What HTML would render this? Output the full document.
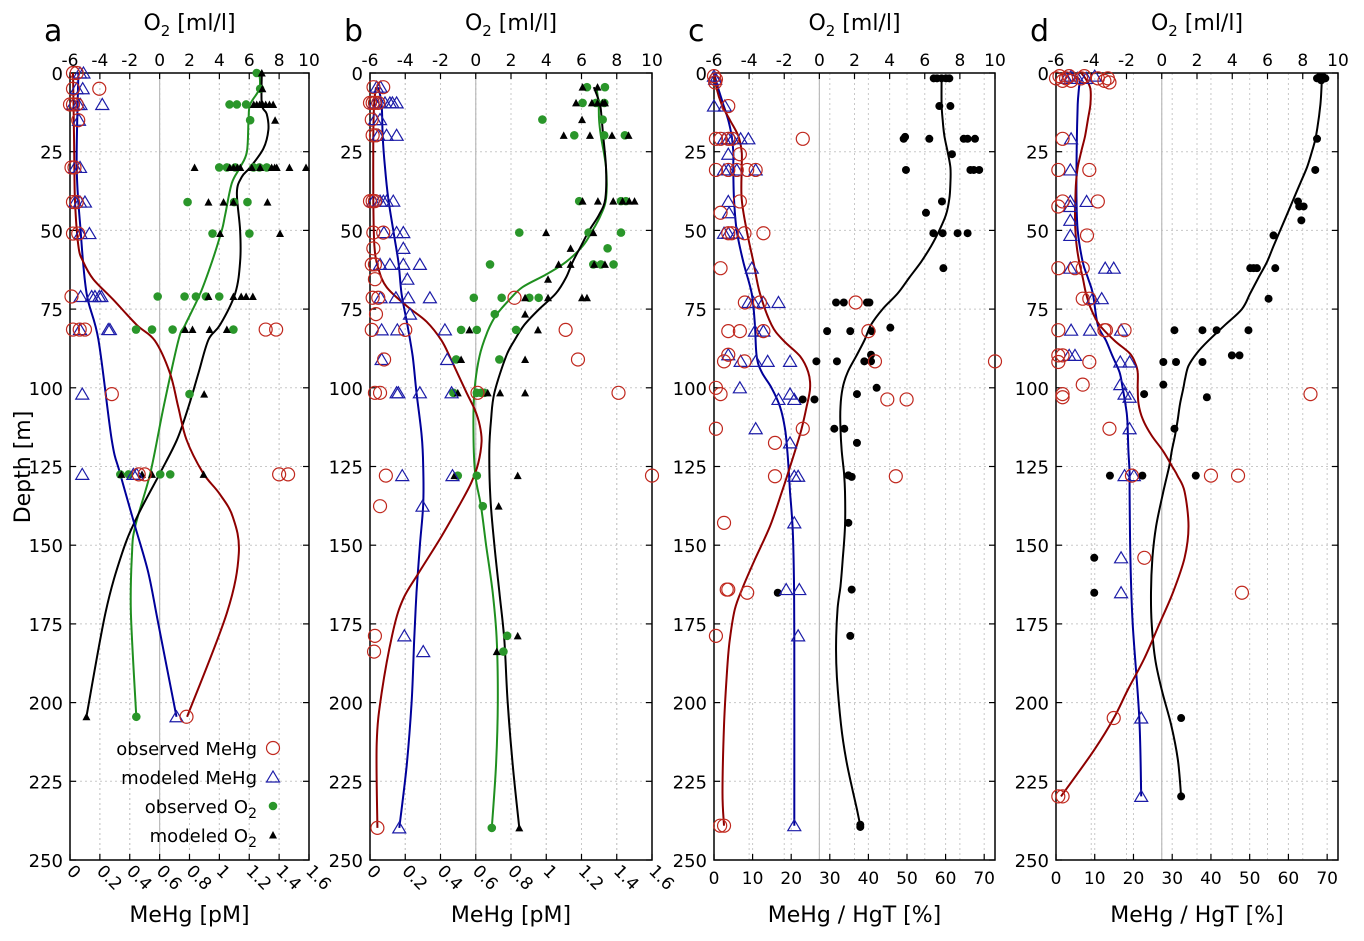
<!DOCTYPE html>
<html><head><meta charset="utf-8"><style>
html,body{margin:0;padding:0;background:#fff;}
svg{display:block;font-family:"DejaVu Sans","Liberation Sans",sans-serif;}
</style></head><body>
<svg id="chart" width="1364" height="941" viewBox="0 0 1364 941" xmlns="http://www.w3.org/2000/svg">
<g id="layer"></g>
</svg>
<script>
// ---------- Panel a ----------
const aObsMeHg=[[0.02,0],[0.045,0],[0.02,5],[0.196,5],[0.0,10],[0.02,10],[0.045,10],[0.055,15],[0.01,30],[0.03,30],[0.02,41],[0.045,41],[0.02,51],[0.055,51],[0.01,71],[0.02,81.5],[0.065,81.5],[0.1,81.5],[1.31,81.5],[1.38,81.5],[0.28,102],[0.46,127.5],[0.5,127.5],[1.40,127.5],[1.46,127.5],[0.78,204.5]];
const aModMeHg=[[0.067,0],[0.09,0],[0.045,5],[0.085,5],[0.02,10],[0.055,10],[0.07,10],[0.216,10],[0.06,15],[0.035,30],[0.067,30],[0.035,41],[0.067,41],[0.1,41],[0.071,51],[0.13,51],[0.071,71],[0.145,71],[0.167,71],[0.196,71],[0.21,71],[0.067,81.5],[0.256,81.5],[0.267,81.5],[0.082,102],[0.082,127.5],[0.424,127.5],[0.446,127.5],[0.713,204.5]];
const aObsO2=[[6.5,0],[6.73,5],[4.68,10],[5.17,10],[5.79,10],[6.06,15],[3.99,30],[4.5,30],[5.06,30],[6.28,30],[6.68,30],[7.17,30],[1.87,41],[4.99,41],[5.88,41],[3.54,51],[6.01,51],[-0.13,71],[1.67,71],[2.43,71],[3.1,71],[3.99,71],[-1.58,81.5],[-0.51,81.5],[0.87,81.5],[4.94,81.5],[2.0,102],[-2.63,127.5],[-2.07,127.5],[0.04,127.5],[0.71,127.5],[-1.56,204.5]];
const aModO2=[[6.84,0],[6.88,5],[6.3,10],[6.5,10],[6.7,10],[6.9,10],[7.1,10],[7.35,10],[7.6,10],[7.73,15],[2.34,30],[4.7,30],[4.95,30],[5.2,30],[5.4,30],[6.17,30],[6.73,30],[7.5,30],[7.7,30],[7.84,30],[8.69,30],[9.8,30],[3.27,41],[4.28,41],[4.94,41],[7.22,41],[4.05,51],[8.06,51],[3.27,71],[4.94,71],[5.46,71],[5.79,71],[6.24,71],[1.71,81.5],[2.2,81.5],[3.34,81.5],[4.5,81.5],[2.98,102],[-2.56,127.5],[-1.18,127.5],[-0.51,127.5],[2.94,127.5],[-4.9,204.5]];
const aObsMeHgLine=[[0.02,0],[0.027,20],[0.033,40],[0.056,55],[0.089,60],[0.156,65.5],[0.29,72],[0.446,80],[0.568,85],[0.669,95.3],[0.724,105.9],[0.78,116.5],[0.89,127],[1.0,133.6],[1.09,141],[1.13,152.6],[1.05,171.6],[0.784,204.5]];
const aModMeHgLine=[[0.056,0],[0.045,30],[0.071,50],[0.111,70],[0.19,84.7],[0.279,116.5],[0.334,127],[0.435,143.9],[0.524,158.7],[0.59,174.6],[0.713,204.5]];
const aObsO2Line=[[6.68,0],[6.68,5],[6.06,10],[5.95,15],[5.84,25],[5.39,30],[4.83,35],[4.39,45],[4.16,50],[3.5,60],[2.72,70],[1.71,80],[1.27,84.7],[0.27,105.9],[-0.62,127],[-1.63,143.9],[-1.85,152.6],[-1.92,171.6],[-1.56,204.5]];
const aModO2Line=[[6.84,0],[6.84,10],[7.17,13],[7.28,18],[6.95,24],[6.06,30],[5.5,33],[5.17,38],[5.39,50],[5.39,60],[5.06,70],[4.05,80],[3.27,84.7],[2.6,95.3],[1.94,105.9],[1.16,116.5],[0.04,127],[-1.51,141],[-2.52,152.6],[-3.63,171.6],[-4.9,204.5]];

// ---------- Panel b ----------
const bObsMeHg=[[0.02,4.5],[0.075,4.5],[0.0,9.5],[0.015,9.5],[0.028,9.5],[0.047,9.5],[0.01,14.8],[0.015,19.8],[0.034,19.8],[0.0,40.7],[0.015,40.7],[0.028,40.7],[0.019,50.7],[0.075,50.7],[0.019,55.7],[0.01,60.8],[0.028,60.8],[0.028,65.5],[0.015,71.4],[0.047,71.4],[0.82,71.4],[0.034,76.6],[0.01,81.6],[0.2,81.6],[1.11,81.6],[0.08,91],[1.18,91],[0.028,101.6],[0.057,101.6],[0.61,101.6],[1.41,101.6],[0.09,127.9],[1.6,127.9],[0.057,137.6],[0.028,178.8],[0.023,183.8],[0.042,239.8]];
const bModMeHg=[[0.038,4.5],[0.06,4.5],[0.028,9.5],[0.057,9.5],[0.085,9.5],[0.113,9.5],[0.127,9.5],[0.151,9.5],[0.028,14.8],[0.057,14.8],[0.047,19.8],[0.094,19.8],[0.151,19.8],[0.019,40.7],[0.057,40.7],[0.076,40.7],[0.094,40.7],[0.132,40.7],[0.079,50.7],[0.151,50.7],[0.189,50.7],[0.189,55.7],[0.057,60.8],[0.113,60.8],[0.189,60.8],[0.283,60.8],[0.212,65.5],[0.06,71.4],[0.147,71.4],[0.217,71.4],[0.34,71.4],[0.227,76.6],[0.066,81.6],[0.155,81.6],[0.425,81.6],[0.066,91],[0.438,91],[0.151,101.6],[0.161,101.6],[0.283,101.6],[0.463,101.6],[0.183,127.9],[0.468,127.9],[0.298,137.6],[0.195,178.8],[0.302,183.8],[0.166,239.8]];
const bObsO2=[[6.31,4.5],[7.33,4.5],[6.06,9.5],[6.82,9.5],[7.29,9.5],[3.78,14.8],[7.2,14.8],[5.59,19.8],[7.29,19.8],[8.46,19.8],[5.87,40.7],[8.24,40.7],[8.52,40.7],[2.47,50.7],[6.4,50.7],[8.24,50.7],[7.48,55.7],[0.81,60.8],[6.67,60.8],[7.1,60.8],[7.82,60.8],[-0.11,71.4],[1.47,71.4],[3.04,71.4],[3.57,71.4],[1.08,76.6],[-0.83,81.6],[0.06,81.6],[2.29,81.6],[-1.11,91],[1.34,91],[-1.27,101.6],[0.06,101.6],[0.3,101.6],[0.49,101.6],[-1.02,127.9],[0.06,127.9],[0.4,137.6],[1.78,178.8],[1.57,183.8],[0.91,239.8]];
const bModO2=[[6.06,4.5],[6.91,4.5],[5.69,9.5],[6.59,9.5],[6.91,9.5],[7.2,9.5],[7.33,9.5],[6.03,14.8],[4.99,19.8],[6.48,19.8],[7.73,19.8],[8.67,19.8],[6.06,40.7],[6.93,40.7],[7.8,40.7],[8.33,40.7],[8.71,40.7],[9.01,40.7],[3.99,50.7],[6.67,50.7],[5.38,55.7],[4.7,60.8],[5.38,60.8],[6.72,60.8],[7.33,60.8],[4.1,65.5],[2.8,71.4],[4.1,71.4],[6.03,71.4],[6.31,71.4],[2.8,76.6],[-0.36,81.6],[3.53,81.6],[-0.83,91],[2.8,91],[-1.02,101.6],[0.68,101.6],[1.38,101.6],[2.8,101.6],[-1.21,127.9],[2.38,127.9],[1.3,137.6],[2.38,178.8],[1.19,183.8],[2.47,239.8]];
const bObsMeHgLine=[[0.034,4.5],[0.023,10],[0.019,20],[0.019,40],[0.025,55],[0.047,62],[0.094,68],[0.208,74],[0.321,79],[0.406,85],[0.46,91],[0.548,101.6],[0.595,107],[0.623,112],[0.633,117],[0.614,124],[0.576,130],[0.51,137],[0.397,148],[0.274,159],[0.189,167],[0.132,177],[0.066,197],[0.038,213],[0.042,239.8]];
const bModMeHgLine=[[0.047,4.5],[0.066,10],[0.072,20],[0.085,30],[0.104,40],[0.132,50],[0.161,60],[0.179,70],[0.212,80],[0.242,90],[0.264,101.6],[0.293,115],[0.302,125],[0.302,137],[0.283,150],[0.264,165],[0.251,180],[0.236,200],[0.208,220],[0.166,239.8]];
const bObsO2Line=[[6.86,5],[6.97,10],[7.0,15],[7.1,20],[7.39,30],[7.39,40],[7.1,45],[6.63,50],[6.06,55],[5.12,60],[3.99,64],[2.66,68],[1.91,72],[1.15,77],[0.68,82],[0.21,90],[-0.08,101.6],[-0.13,115],[-0.02,127.9],[0.3,137.6],[0.59,150],[0.96,165],[1.19,180],[1.25,200],[1.15,220],[0.91,239.8]];
const bModO2Line=[[6.7,4.5],[7.05,10],[7.15,15],[7.23,20],[7.39,30],[7.35,40],[7.0,45],[6.44,50],[5.97,55],[5.5,60],[5.12,65],[4.55,70],[3.6,75],[2.76,80],[2.19,85],[1.72,90],[1.06,101.6],[0.87,110],[0.77,120],[0.83,135],[1.06,150],[1.34,165],[1.62,180],[1.81,200],[2.1,220],[2.47,239.8]];

// ---------- Panel c ----------
const cObsMeHg=[[0,1],[0.5,2],[0.3,3],[3.7,10.5],[0.5,20.9],[1.7,20.9],[3.7,20.9],[4.7,20.9],[23,20.9],[6.7,25.8],[0.5,30.8],[3.7,30.8],[5.9,30.8],[8.6,30.8],[10.8,30.8],[6.7,40.8],[1.7,44.4],[3.7,50.9],[4.6,50.9],[7.9,50.9],[12.8,50.9],[1.7,62],[8,72.9],[11.9,72.9],[36.7,72.9],[3.7,82],[6.7,82],[12.8,82],[40,82],[3.7,89.5],[2.6,91.6],[7.9,91.6],[41.7,91.6],[72.8,91.6],[0.5,100],[1.7,102],[44.9,103.7],[49.9,103.7],[0.5,113],[23,113],[15.8,117.5],[15.8,128.1],[47.1,128.1],[2.6,142.9],[3.3,164.1],[3.7,164.1],[8.6,165.1],[0.5,178.8],[1.6,239.1],[2.6,239.1]];
const cModMeHg=[[0,1],[0.3,2],[0,10.5],[2.8,10.5],[2.6,20.9],[3.7,20.9],[4.8,20.9],[6.9,20.9],[8.9,20.9],[3.7,25.8],[2.6,30.8],[3.7,30.8],[5.9,30.8],[10.8,30.8],[3.7,40.8],[3.9,44.4],[2.6,50.9],[3.7,50.9],[5.9,50.9],[9.8,62],[8.9,72.9],[10.2,72.9],[12.8,72.9],[16.7,72.9],[10.6,82],[12.8,82],[3.7,89.5],[6.9,91.6],[10.8,91.6],[13.9,91.6],[19.7,91.6],[6.7,100],[19.7,102],[16.7,103.7],[20.8,103.7],[10.8,113],[19.7,117.5],[20.8,128.1],[21.8,128.1],[20.8,142.9],[18.7,164.1],[22.1,164.1],[21.8,178.8],[20.8,239.1]];
const cObsO2=[[6.51,1.7],[6.7,1.7],[6.96,1.7],[7.21,1.7],[7.4,1.7],[6.83,10.5],[7.46,10.5],[4.8,20.9],[4.88,20.3],[6.26,20.9],[8.22,20.9],[8.44,20.9],[8.86,20.9],[7.55,25.8],[4.93,30.8],[8.6,30.8],[8.79,30.8],[9.1,30.8],[6.98,40.8],[6.07,44.4],[6.49,50.9],[7.02,50.9],[7.87,50.9],[8.44,50.9],[7.06,62],[0.95,72.9],[1.39,72.9],[2.71,72.9],[2.85,72.9],[0.44,82],[1.76,82],[2.98,82],[4.04,80.9],[2.94,89.5],[-0.17,91.6],[1.0,91.6],[2.56,91.6],[2.94,91.6],[3.26,100],[2.14,102],[-0.95,103.7],[-0.28,103.7],[0.85,113],[1.42,113],[2.14,117.5],[1.65,127.8],[1.84,128.3],[1.65,142.9],[-2.37,165.1],[1.84,164.1],[1.76,178.8],[2.33,238.8],[2.33,239.5]];
const cObsMeHgLine=[[0,0],[0.69,5],[1.99,10],[4.15,15],[6.3,20],[7.17,25],[7.17,30],[7.17,40],[8.46,50],[10.2,60],[11.9,70],[14.9,80],[18,85],[22.3,90],[24.4,95],[24.9,100],[24,106],[22.7,113],[21,120],[19.2,127],[17.5,133.4],[14.5,144],[10.6,154.5],[7.6,163],[5.4,170.4],[4.0,181],[3.3,191.6],[2.6,207.4],[2.2,228.6],[2.6,239.1]];
const cModMeHgLine=[[0,0],[1.12,5],[2.42,10],[3.71,15],[4.58,20],[5.0,25],[5.0,30],[5.18,40],[5.87,50],[7.6,60],[9.76,70],[10.6,80],[11.05,90],[12.35,95],[14.9,100],[17.1,106],[18.4,113],[19,120],[19.4,127],[19.7,133],[20.4,145],[20.7,160],[20.8,180],[20.8,239.1]];
const cObsO2Line=[[6.96,1.7],[6.96,10],[7.02,15],[7.12,20],[7.3,25],[7.46,30],[7.46,35],[7.4,40],[7.21,45],[6.83,50],[6.36,55],[5.79,60],[5.12,65],[4.46,70],[3.6,75],[2.94,80],[2.56,85],[2.09,90],[1.61,95],[1.33,100],[1.2,106],[1.2,113],[1.27,120],[1.4,127],[1.46,133],[1.46,144],[1.33,154.5],[1.2,163],[1.04,170],[0.95,181],[1.0,192],[1.23,207],[1.52,218],[1.9,228],[2.14,234],[2.33,239.1]];

// ---------- Panel d ----------
const dObsMeHg=[[0,1.7],[0.9,1],[1.7,2.5],[2.6,1.7],[3.4,1],[3.9,2.5],[6.5,1.7],[7.3,1],[10.8,1.7],[12.5,2.5],[13.4,1.7],[13.8,3],[1.7,20.9],[0.6,30.8],[8.6,30.8],[1.7,40.8],[10.8,40.8],[0.6,42.4],[8,51.6],[0.6,62],[4.9,62],[6.9,62],[6.9,71.7],[8.6,71.7],[0.6,81.7],[12.5,81.7],[12.9,81.7],[17.7,81.7],[0.6,89.7],[1.7,89.7],[0.6,91.8],[8.6,91.8],[6.9,99],[1.7,102],[65.7,102],[1.7,103],[13.8,113],[19.6,127.9],[40,127.9],[47,127.9],[22.8,154],[48,165.1],[14.9,204.9],[0.6,229.8],[1.7,229.8]];
const dModMeHg=[[2.6,1.7],[3.9,1],[5.6,1.7],[7.8,1.7],[10,1],[3.9,20.9],[3.7,30.8],[3.7,40.8],[7.9,40.8],[3.7,42.4],[3.7,46.8],[3.7,51.6],[3.7,62],[12.7,62],[14.9,62],[9.5,71.7],[11.8,71.7],[3.9,81.7],[8.8,81.7],[16.8,81.7],[3.4,89.7],[4.9,89.7],[16.6,91.8],[19,91.8],[16.6,99],[17.7,102],[19,103],[19,113],[17.7,127.9],[20.1,127.9],[16.8,154],[16.8,165.1],[22,204.9],[22,229.8]];
const dObsO2=[[8.81,1.7],[8.94,1.2],[9.05,2.3],[9.28,1.7],[9.15,1.2],[8.81,20.9],[8.71,30.8],[7.73,40.8],[7.8,42.4],[8.05,42.4],[7.92,46.8],[6.34,51.6],[5.02,62],[5.21,62],[5.4,62],[6.44,62],[6.06,71.7],[0.72,81.7],[2.31,81.7],[3.11,81.7],[4.92,81.7],[3.98,89.7],[4.41,89.7],[0.09,91.8],[0.81,91.8],[2.31,91.8],[0.09,99],[-1.0,102],[2.56,103],[0.72,113],[-2.94,127.9],[-1.1,127.9],[1.93,127.9],[-3.83,154],[-3.83,165.1],[1.1,204.9],[1.1,229.8]];
const dObsMeHgLine=[[6.5,0],[7.75,2],[8.87,5],[8.87,10],[8.2,15],[7.5,20],[6.5,25],[5.6,30],[5.17,35],[5.0,40],[4.9,45],[5.0,50],[5.34,55],[6.0,60],[6.9,65],[7.75,70],[9.05,75],[11.2,80],[15.1,85],[19.0,89],[20.4,92],[21.1,95],[21.1,100],[21.3,105],[22.4,110],[24.6,115],[27.6,120],[30.0,125],[31.4,128],[33.2,133],[34.2,144],[33.2,154],[30.2,165],[26.7,175],[22.8,186],[18.5,196],[14.9,205],[9.9,215],[1.3,229.8]];
const dModMeHgLine=[[3.4,0],[6.0,2],[5.9,5],[5.6,10],[5.4,20],[5.3,30],[5.3,40],[5.6,50],[6.9,60],[8.2,65],[9.5,70],[10.8,80],[12.9,85],[14.6,90],[16.4,95],[17.2,100],[17.9,105],[18.4,110],[18.7,120],[19.0,127],[19.0,133],[19.2,154],[19.8,175],[21.5,205],[22,229.8]];
const dObsO2Line=[[9.09,1],[9.0,10],[8.75,20],[8.52,25],[8.24,30],[7.86,35],[7.48,40],[7.1,45],[6.72,50],[6.34,55],[5.97,60],[5.49,65],[5.02,70],[4.55,75],[3.6,80],[2.65,85],[1.99,89],[1.52,93],[1.33,97],[1.23,100],[1.04,105],[0.91,110],[0.76,115],[0.57,120],[0.42,125],[0.09,133],[-0.32,144],[-0.53,154],[-0.61,165],[-0.57,175],[-0.38,186],[0,196],[0.53,207],[0.91,218],[1.1,229.8]];

// ---------- Axis tick labels ----------
const depthTicks=[0,25,50,75,100,125,150,175,200,225,250];
const o2Ticks=[-6,-4,-2,0,2,4,6,8,10];
const pmTicks=[0,0.2,0.4,0.6,0.8,1,1.2,1.4,1.6];
const pmTickLabels=["0","0.2","0.4","0.6","0.8","1","1.2","1.4","1.6"];
const pctTicks=[0,10,20,30,40,50,60,70];
const pctTickLabels=["0","10","20","30","40","50","60","70"];

const NS="http://www.w3.org/2000/svg";
const layer=document.getElementById('layer');
const TOP=73,BOT=860;
function el(tag,attrs,parent){const e=document.createElementNS(NS,tag);for(const k in attrs)e.setAttribute(k,attrs[k]);(parent||layer).appendChild(e);return e;}
function yS(d){return TOP+d*(BOT-TOP)/250;}

const panels=[
 {id:'a',L:70,R:309,xmax:1.6,ticks:pmTicks,labels:pmTickLabels,rot:true,title:'MeHg [pM]',
  obsM:aObsMeHg,modM:aModMeHg,obsO:aObsO2,modO:aModO2,lObsM:aObsMeHgLine,lModM:aModMeHgLine,lObsO:aObsO2Line,lModO:aModO2Line},
 {id:'b',L:370,R:652,xmax:1.6,ticks:pmTicks,labels:pmTickLabels,rot:true,title:'MeHg [pM]',
  obsM:bObsMeHg,modM:bModMeHg,obsO:bObsO2,modO:bModO2,lObsM:bObsMeHgLine,lModM:bModMeHgLine,lObsO:bObsO2Line,lModO:bModO2Line},
 {id:'c',L:714,R:995,xmax:72.8,ticks:pctTicks,labels:pctTickLabels,rot:false,title:'MeHg / HgT [%]',
  obsM:cObsMeHg,modM:cModMeHg,dotO:cObsO2,lObsM:cObsMeHgLine,lModM:cModMeHgLine,lDotO:cObsO2Line},
 {id:'d',L:1056,R:1338,xmax:72.8,ticks:pctTicks,labels:pctTickLabels,rot:false,title:'MeHg / HgT [%]',
  obsM:dObsMeHg,modM:dModMeHg,dotO:dObsO2,lObsM:dObsMeHgLine,lModM:dModMeHgLine,lDotO:dObsO2Line}
];

function smoothPath(pts){
  if(pts.length<2)return '';
  let d='M'+pts[0][0].toFixed(1)+','+pts[0][1].toFixed(1);
  for(let i=0;i<pts.length-1;i++){
    const p0=pts[i-1]||pts[i],p1=pts[i],p2=pts[i+1],p3=pts[i+2]||p2;
    const c1x=p1[0]+(p2[0]-p0[0])/6,c1y=p1[1]+(p2[1]-p0[1])/6;
    const c2x=p2[0]-(p3[0]-p1[0])/6,c2y=p2[1]-(p3[1]-p1[1])/6;
    d+=' C'+c1x.toFixed(1)+','+c1y.toFixed(1)+' '+c2x.toFixed(1)+','+c2y.toFixed(1)+' '+p2[0].toFixed(1)+','+p2[1].toFixed(1);
  }
  return d;
}
function circ(g,x,y){const e=el('circle',{cx:x,cy:y,r:6.5,fill:'none',stroke:'#c0281e','stroke-width':1.2},g);return e;}
function tri(g,x,y){const e=el('path',{d:`M${x-6.5},${y+5} L${x+6.5},${y+5} L${x},${y-6} Z`,fill:'none',stroke:'#1c1ca8','stroke-width':1.2},g);return e;}
function gdot(g,x,y){return el('circle',{cx:x,cy:y,r:4.3,fill:'#2a962a'},g);}
function btri(g,x,y){return el('path',{d:`M${x-4},${y+3.5} L${x+4},${y+3.5} L${x},${y-4} Z`,fill:'#000'},g);}
function bdot(g,x,y){return el('circle',{cx:x,cy:y,r:4,fill:'#000'},g);}

panels.forEach(p=>{
  const W=p.R-p.L;
  const xV=v=>p.L+v/p.xmax*W;
  const xO=o=>p.L+(o+6)/16*W;
  const g=el('g',{});
  
  
  const grid=el('g',{},g);
  
  
  depthTicks.forEach(d=>{if(d>0&&d<250)el('line',{x1:p.L,x2:p.R,y1:yS(d),y2:yS(d),stroke:'#c8c8c8','stroke-width':1,'stroke-dasharray':'2,3'},grid);});
  p.ticks.forEach(v=>{const x=xV(v);if(x>p.L+1&&x<p.R-1)el('line',{x1:x,x2:x,y1:TOP,y2:BOT,stroke:'#c8c8c8','stroke-width':1,'stroke-dasharray':'2,3'},grid);});
  o2Ticks.forEach(o=>{const x=xO(o);if(x>p.L+1&&x<p.R-1)el('line',{x1:x,x2:x,y1:TOP,y2:BOT,stroke:'#c8c8c8','stroke-width':1,'stroke-dasharray':'2,3'},grid);});
  const zl=el('line',{x1:xO(0),x2:xO(0),y1:TOP,y2:BOT,stroke:'#bbbbbb','stroke-width':1.2},g);
  
  
  const fr=el('rect',{x:p.L,y:TOP,width:W,height:BOT-TOP,fill:'none',stroke:'#000','stroke-width':1.5},g);
  
  
  depthTicks.forEach(d=>{
    el('line',{x1:p.L,x2:p.L+6,y1:yS(d),y2:yS(d),stroke:'#000','stroke-width':1.2},g);
    el('line',{x1:p.R,x2:p.R-6,y1:yS(d),y2:yS(d),stroke:'#000','stroke-width':1.2},g);
    const t=el('text',{x:p.L-7,y:yS(d)+7,'text-anchor':'end','font-size':18,fill:'#000'},g);
    t.textContent=String(d);
    
    
  });
  o2Ticks.forEach(o=>{
    const x=xO(o);
    el('line',{x1:x,x2:x,y1:TOP,y2:TOP+6,stroke:'#000','stroke-width':1.2},g);
    const t=el('text',{x:x,y:66,'text-anchor':'middle','font-size':17,fill:'#000'},g);
    t.textContent=String(o);
    
    
  });
  p.ticks.forEach((v,i)=>{
    const x=xV(v);
    el('line',{x1:x,x2:x,y1:BOT,y2:BOT-6,stroke:'#000','stroke-width':1.2},g);
    let t;
    if(p.rot){
      t=el('text',{x:x-4,y:872,'text-anchor':'start','font-size':17,fill:'#000',transform:`rotate(45 ${x-4} 872)`},g);
    } else {
      t=el('text',{x:x,y:884,'text-anchor':'middle','font-size':17,fill:'#000'},g);
    }
    t.textContent=p.labels[i];
    
    
  });
  const cx=(p.L+p.R)/2;
  const tt=el('text',{x:cx,y:30,'text-anchor':'middle','font-size':22,fill:'#000'},g);
  tt.innerHTML='O<tspan font-size="15" dy="6">2</tspan><tspan dy="-6"> [ml/l]</tspan>';
  
  
  const bt=el('text',{x:cx,y:922,'text-anchor':'middle','font-size':22,fill:'#000'},g);
  bt.textContent=p.title;
  
  
  const lt=el('text',{x:p.L-26,y:41,'text-anchor':'start','font-size':30,fill:'#000'},g);
  lt.textContent=p.id;
  
  

  const ln=(arr,fx,color,name)=>{
    const path=el('path',{d:smoothPath(arr.map(q=>[fx(q[0]),yS(q[1])])),fill:'none',stroke:color,'stroke-width':2},g);
    
    
  };
  if(p.lObsO){ln(p.lObsO,xO,'#1f8f1f','observed-o2-line');}
  if(p.lModO){ln(p.lModO,xO,'#000','modeled-o2-line');}
  if(p.lDotO){ln(p.lDotO,xO,'#000','o2-profile-line');}
  ln(p.lModM,xV,'#00009a','modeled-mehg-line');
  ln(p.lObsM,xV,'#8e0000','observed-mehg-line');
  if(p.obsO)p.obsO.forEach(q=>{const m=gdot(g,xO(q[0]),yS(q[1]));
    
    });
  if(p.modO)p.modO.forEach(q=>{const m=btri(g,xO(q[0]),yS(q[1]));
    
    });
  if(p.dotO)p.dotO.forEach(q=>{const m=bdot(g,xO(q[0]),yS(q[1]));
    
    });
  p.modM.forEach(q=>{const m=tri(g,xV(q[0]),yS(q[1]));
    
    });
  p.obsM.forEach(q=>{const m=circ(g,xV(q[0]),yS(q[1]));
    
    });
});

const yt=el('text',{x:30,y:467,'text-anchor':'middle','font-size':22,fill:'#000',transform:'rotate(-90 30 467)'});
yt.textContent='Depth [m]';



const lg=el('g',{});


const legendRows=[
 {y:748,html:'observed MeHg',m:'c',n:'legend-observed-mehg'},
 {y:777,html:'modeled MeHg',m:'t',n:'legend-modeled-mehg'},
 {y:806,html:'observed O<tspan font-size="14" dy="5">2</tspan>',m:'g',n:'legend-observed-o2'},
 {y:835,html:'modeled O<tspan font-size="14" dy="5">2</tspan>',m:'b',n:'legend-modeled-o2'}
];
legendRows.forEach(r=>{
  const eg=el('g',{},lg);
  
  
  const t=el('text',{x:257,y:r.y+7,'text-anchor':'end','font-size':18,fill:'#000'},eg);
  t.innerHTML=r.html;
  if(r.m==='c')circ(eg,273,r.y);
  if(r.m==='t')tri(eg,273,r.y);
  if(r.m==='g')gdot(eg,273,r.y);
  if(r.m==='b')btri(eg,273,r.y);
});
</script>
</body></html>
